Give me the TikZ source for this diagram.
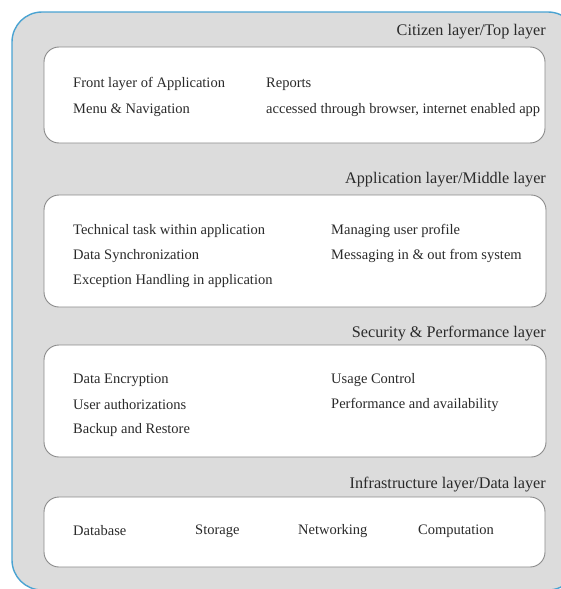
\documentclass[tikz,border=0pt]{standalone}
\usepackage{fontspec}
\setmainfont{Liberation Serif}
\definecolor{outerfill}{HTML}{DCDCDC}
\definecolor{outerline}{HTML}{4AA3D2}
\definecolor{boxline}{HTML}{8A8A8A}
\definecolor{txt}{HTML}{2A2A2A}
\begin{document}
\begin{tikzpicture}[x=1pt,y=-1pt,
  layerbox/.style={draw=boxline, line width=0.9pt, fill=white, rounded corners=15pt},
  item/.style={anchor=west, inner sep=0pt, text=txt, font=\fontsize{14.5}{17}\selectfont},
  title/.style={anchor=east, inner sep=0pt, text=txt, font=\fontsize{16.2}{18}\selectfont}]
\useasboundingbox (0,0) rectangle (561,589);
\begin{scope}
\clip (0,0) rectangle (561,589);
\draw[fill=outerfill, draw=outerline, line width=1.4pt, rounded corners=30pt] (12,12) rectangle (578,590);
\end{scope}
% boxes
\draw[layerbox] (44,47) rectangle (545,143);
\draw[layerbox] (44,195) rectangle (546,307);
\draw[layerbox] (44,345) rectangle (546,457);
\draw[layerbox] (44,497) rectangle (545,567);
% titles
\node[title] (t1) at (546,32) {Citizen layer/Top layer};
\node[title] (t2) at (546,180) {Application layer/Middle layer};
\node[title] (t3) at (546,334) {Security \& Performance layer};
\node[title] (t4) at (546,485) {Infrastructure layer/Data layer};
% box 1
\node[item] (a1) at (73,84) {Front layer of Application};
\node[item] (a2) at (73,110) {Menu \& Navigation};
\node[item] (a3) at (266,84) {Reports};
\node[item] (a4) at (266,110) {accessed through browser, internet enabled app};
% box 2
\node[item] (b1) at (73,231) {Technical task within application};
\node[item] (b2) at (73,256) {Data Synchronization};
\node[item] (b3) at (73,281) {Exception Handling in application};
\node[item] (b4) at (331,231) {Managing user profile};
\node[item] (b5) at (331,256) {Messaging in \& out from system};
% box 3
\node[item] (c1) at (73,380) {Data Encryption};
\node[item] (c2) at (73,405) {User authorizations};
\node[item] (c3) at (73,430) {Backup and Restore};
\node[item] (c4) at (331,380) {Usage Control};
\node[item] (c5) at (331,405) {Performance and availability};
% box 4
\node[item] (d1) at (73,531) {Database};
\node[item] (d2) at (195,531) {Storage};
\node[item] (d3) at (298,531) {Networking};
\node[item] (d4) at (418,531) {Computation};
\end{tikzpicture}
\end{document}
